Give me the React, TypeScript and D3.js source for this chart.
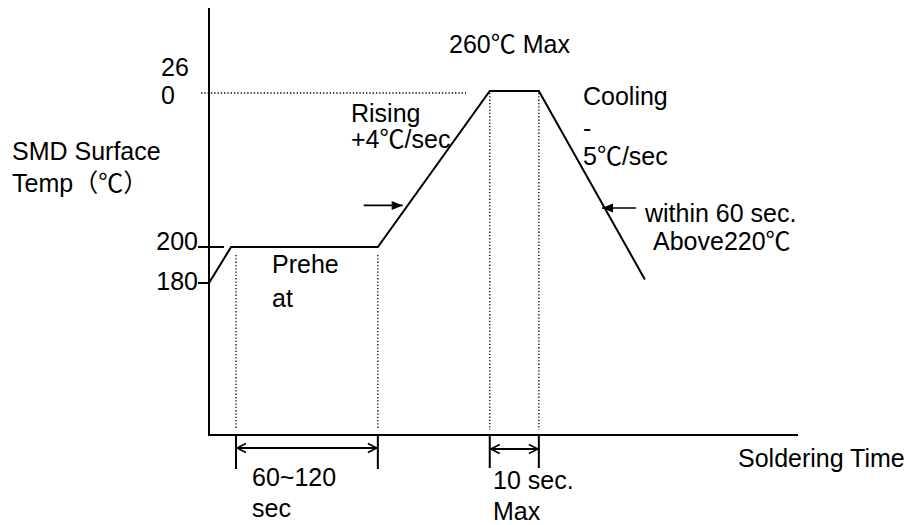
import React from "react";
import * as d3 from "d3";

// ---- data ----
const timeDomain = [0, 120];
const profileTime = [0, 4.5, 34.4, 57.2, 67.2, 88.8];
const profileTemp = [180, 200, 200, 260, 260, 182];
const tempAnchors = [180, 200, 260];
const tempTicks = [180, 200];
const tempTickLabels = ["180", "200"];
const maxTemp = 260;
const maxTempLabelLines = ["26", "0"];
const preheatSpan = [5.5, 34.4];
const peakSpan = [57.2, 67.2];
const risingArrowTemp = 216;
const coolingArrowTemp = 215;

const W = 916;
const H = 525;
const FONT = "'Liberation Sans', Arial, 'Noto Sans CJK JP', sans-serif";
const CJK = "'Noto Sans CJK JP', 'Noto Sans CJK SC', sans-serif";
const FS = 25;

// render string, with ℃ and full-width parens in a CJK font
function renderRich(s: string) {
  const parts = s.split(/([℃（）])/).filter((p) => p !== "");
  return parts.map((p, i) =>
    /[℃（）]/.test(p) ? (
      <tspan key={i} fontFamily={CJK}>
        {p}
      </tspan>
    ) : (
      <tspan key={i}>{p}</tspan>
    )
  );
}

export default function App() {
  const x = d3.scaleLinear().domain(timeDomain).range([209, 798]);
  const y = d3.scaleLinear().domain(tempAnchors).range([283, 247, 91]);
  const axisBottom = 435;
  const axisTop = 8;
  const x0 = x(timeDomain[0]);

  const pts = profileTime.map((t, i) => [t, profileTemp[i]] as [number, number]);
  const line = d3
    .line<[number, number]>()
    .x((d) => x(d[0]))
    .y((d) => y(d[1]));

  const segX = (a: [number, number], b: [number, number], temp: number) => {
    const f = (temp - a[1]) / (b[1] - a[1]);
    return x(a[0] + f * (b[0] - a[0]));
  };
  const riseX = segX(pts[2], pts[3], risingArrowTemp);
  const coolX = segX(pts[4], pts[5], coolingArrowTemp);

  const txt = (s: string, tx: number, ty: number, anchor = "start", key?: string) => (
    <text key={key ?? s + tx + ty} x={tx} y={ty} textAnchor={anchor as any} fontSize={FS} fontFamily={FONT} fill="#000">
      {renderRich(s)}
    </text>
  );

  const dimArrow = (span: number[], yy: number, tickBottom: number) => (
    <g>
      {span.map((t, i) => (
        <line key={i} x1={x(t)} x2={x(t)} y1={axisBottom} y2={tickBottom} stroke="#000" strokeWidth={2} />
      ))}
      <line
        x1={x(span[0]) + 1}
        x2={x(span[1]) - 1}
        y1={yy}
        y2={yy}
        stroke="#000"
        strokeWidth={2}
        markerStart="url(#open)"
        markerEnd="url(#open)"
      />
    </g>
  );

  return (
    <svg width={W} height={H} style={{ position: "absolute", left: 0, top: 0, background: "#fff" }}>
      <defs>
        <marker id="open" viewBox="-12 -6 14 12" refX={0} refY={0} markerWidth={14} markerHeight={12} markerUnits="userSpaceOnUse" orient="auto-start-reverse">
          <path d="M-9,-4.5 L0,0 L-9,4.5" fill="none" stroke="#000" strokeWidth={1.6} />
        </marker>
        <marker id="solid" viewBox="-12 -6 14 12" refX={0} refY={0} markerWidth={14} markerHeight={12} markerUnits="userSpaceOnUse" orient="auto">
          <path d="M-11,-4.5 L0,0 L-11,4.5 Z" fill="#000" />
        </marker>
      </defs>
      <rect width={W} height={H} fill="#fff" />

      {/* dotted guides */}
      <line x1={x0 - 8} x2={466} y1={y(maxTemp) + 2} y2={y(maxTemp) + 2} stroke="#000" strokeWidth={1.3} strokeDasharray="1.3,2" />
      {preheatSpan.map((t, i) => (
        <line key={"pd" + i} x1={x(t)} x2={x(t)} y1={y(200) + 8} y2={axisBottom - 5} stroke="#000" strokeWidth={1.3} strokeDasharray="1.3,2" />
      ))}
      {peakSpan.map((t, i) => (
        <line key={"kd" + i} x1={x(t)} x2={x(t)} y1={y(maxTemp) + 2} y2={axisBottom - 5} stroke="#000" strokeWidth={1.3} strokeDasharray="1.3,2" />
      ))}

      {/* axes */}
      <line x1={x0} x2={x0} y1={axisTop} y2={axisBottom + 1} stroke="#000" strokeWidth={2} />
      <line x1={x0 - 1} x2={x(timeDomain[1])} y1={axisBottom} y2={axisBottom} stroke="#000" strokeWidth={2} />

      {/* y ticks */}
      {tempTicks.map((v, i) => (
        <g key={"t" + v}>
          <line x1={x0 - 11} x2={i === 1 ? x0 + 15 : x0} y1={y(v)} y2={y(v)} stroke="#000" strokeWidth={2} />
          {txt(tempTickLabels[i], x0 - 11, y(v) + (i === 1 ? 3 : 7), "end")}
        </g>
      ))}
      {txt(maxTempLabelLines[0], 161, y(maxTemp) - 15, "start", "m0")}
      {txt(maxTempLabelLines[1], 161, y(maxTemp) + 13, "start", "m1")}

      {/* profile */}
      <path d={line(pts) || ""} fill="none" stroke="#000" strokeWidth={2} strokeLinejoin="miter" />

      {/* arrows */}
      <line x1={riseX - 44} x2={riseX - 5} y1={y(risingArrowTemp)} y2={y(risingArrowTemp)} stroke="#000" strokeWidth={1.6} markerEnd="url(#solid)" />
      <line x1={coolX + 36} x2={coolX + 2} y1={y(coolingArrowTemp)} y2={y(coolingArrowTemp)} stroke="#000" strokeWidth={1.6} markerEnd="url(#solid)" />

      {/* dimension markers */}
      {dimArrow(preheatSpan, 448, 469)}
      {dimArrow(peakSpan, 449, 468)}

      {/* labels */}
      {txt("SMD Surface", 12, 160)}
      {txt("Temp（℃）", 12, 192)}
      {txt("260℃ Max", 449, 53)}
      {txt("Rising", 351, 122)}
      {txt("+4℃/sec", 351, 148)}
      {txt("Prehe", 272, 273)}
      {txt("at", 272, 307)}
      {txt("Cooling", 583, 105)}
      {txt("-", 583, 137)}
      {txt("5℃/sec", 583, 165)}
      {txt("within 60 sec.", 645, 222)}
      {txt("Above220℃", 653, 250)}
      {txt("60~120", 252, 486)}
      {txt("sec", 252, 517)}
      {txt("10 sec.", 493, 489)}
      {txt("Max", 493, 520)}
      {txt("Soldering Time", 738, 467)}
    </svg>
  );
}
